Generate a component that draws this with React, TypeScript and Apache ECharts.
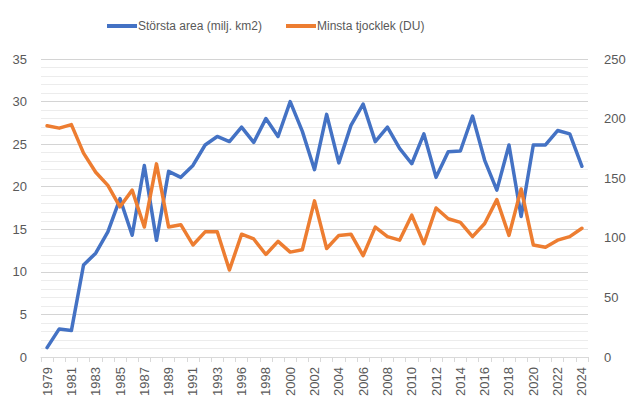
import { useRef, useEffect } from 'react'
import * as echarts from 'echarts'

// Antarctic ozone hole: largest area and lowest thickness (1995 has no data)
const years: string[] = [
  '1979', '1980', '1981', '1982', '1983', '1984', '1985', '1986', '1987', '1988',
  '1989', '1990', '1991', '1992', '1993', '1994', '1996', '1997', '1998', '1999',
  '2000', '2001', '2002', '2003', '2004', '2005', '2006', '2007', '2008', '2009',
  '2010', '2011', '2012', '2013', '2014', '2015', '2016', '2017', '2018', '2019',
  '2020', '2021', '2022', '2023', '2024',
]

const maxArea: number[] = [
  1.1, 3.3, 3.1, 10.8, 12.2, 14.7, 18.6, 14.3, 22.5, 13.7,
  21.8, 21.1, 22.5, 24.9, 25.9, 25.3, 27.0, 25.2, 28.0, 25.9,
  30.0, 26.5, 22.0, 28.5, 22.8, 27.2, 29.7, 25.3, 27.0, 24.5,
  22.7, 26.2, 21.1, 24.1, 24.2, 28.3, 23.1, 19.6, 24.9, 16.5,
  24.9, 24.9, 26.6, 26.2, 22.4,
]

const minThickness: number[] = [
  194, 192, 195, 171, 155, 144, 126, 140, 109, 162,
  109, 111, 94, 105, 105, 73, 103, 99, 86, 97,
  88, 90, 131, 91, 102, 103, 85, 109, 101, 98,
  119, 95, 125, 116, 113, 101, 112, 132, 102, 141,
  94, 92, 98, 101, 108,
]

const AREA_NAME = 'Största area (milj. km2)'
const THICK_NAME = 'Minsta tjocklek (DU)'
const BLUE = '#4472C4'
const ORANGE = '#ED7D31'
const LABEL_COLOR = '#595959'
const FONT = "'Liberation Sans', Arial, sans-serif"

export default function App() {
  const chartRef = useRef<HTMLDivElement>(null)

  useEffect(() => {
    document.body.style.margin = '0'
    if (!chartRef.current) return
    const chart = echarts.init(chartRef.current, undefined, { renderer: 'svg' })

    chart.setOption({
      animation: false,
      textStyle: { fontFamily: FONT },
      legend: {
        data: [AREA_NAME, THICK_NAME],
        top: 15,
        left: 102,
        itemWidth: 30,
        itemHeight: 4,
        itemGap: 24,
        icon: 'rect',
        textStyle: {
          fontSize: 12,
          color: LABEL_COLOR,
          padding: [0, 0, 0, -4],
        },
      },
      grid: { left: 41, right: 51, top: 59, bottom: 54, containLabel: false },
      xAxis: {
        type: 'category',
        data: years,
        boundaryGap: true,
        axisLine: { lineStyle: { color: '#d9d9d9', width: 1 } },
        axisTick: { show: true, interval: 0, length: 5, lineStyle: { color: '#d9d9d9' } },
        axisLabel: {
          interval: 1,
          rotate: 90,
          fontSize: 13,
          color: LABEL_COLOR,
          margin: 10,
        },
        splitLine: { show: false },
      },
      yAxis: [
        {
          type: 'value',
          min: 0,
          max: 35,
          interval: 5,
          axisLine: { show: false },
          axisTick: { show: false },
          axisLabel: { fontSize: 13, color: LABEL_COLOR, margin: 14 },
          splitLine: { lineStyle: { color: '#d4d4d4', width: 1 } },
          minorTick: { show: false, splitNumber: 5 },
          minorSplitLine: { show: true, lineStyle: { color: '#ececec', width: 1 } },
        },
        {
          type: 'value',
          min: 0,
          max: 250,
          interval: 50,
          axisLine: { show: false },
          axisTick: { show: false },
          axisLabel: { fontSize: 13, color: LABEL_COLOR, margin: 16 },
          splitLine: { show: false },
        },
      ],
      series: [
        {
          name: AREA_NAME,
          type: 'line',
          yAxisIndex: 0,
          data: maxArea,
          symbol: 'none',
          itemStyle: { color: BLUE },
          lineStyle: { color: BLUE, width: 3.5, cap: 'round', join: 'round' },
        },
        {
          name: THICK_NAME,
          type: 'line',
          yAxisIndex: 1,
          data: minThickness,
          symbol: 'none',
          itemStyle: { color: ORANGE },
          lineStyle: { color: ORANGE, width: 3.5, cap: 'round', join: 'round' },
        },
      ],
    })

    return () => {
      chart.dispose()
    }
  }, [])

  return <div ref={chartRef} style={{ width: 639, height: 411 }} />
}
